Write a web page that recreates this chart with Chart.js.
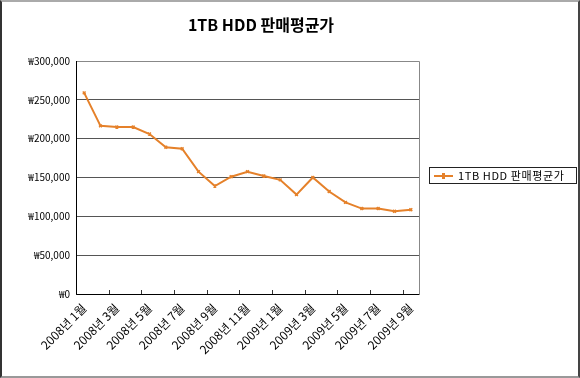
<!DOCTYPE html>
<html>
<head>
<meta charset="utf-8">
<script src="https://cdn.jsdelivr.net/npm/chart.js@4.4.1/dist/chart.umd.min.js"></script>
<style>
  html, body { margin: 0; padding: 0; background: #fff; }
  #wrap { position: relative; width: 580px; height: 378px; }
  #c { position: absolute; left: 0; top: 0; }
  #title { position: absolute; left: 161px; top: 13px; width: 200px; text-align: center;
           font-family: "Noto Sans CJK KR", sans-serif; font-weight: bold; font-size: 16px; line-height: 22px; color: #000; white-space: nowrap; }
  #frame { position: absolute; left: 0; top: 0; width: 580px; height: 378px; box-sizing: border-box;
           border-left: 2px solid #333; border-top: 2px solid #aaa; border-right: 2px solid #444; border-bottom: 2px solid #999; pointer-events: none; }
  #legend { position: absolute; left: 429px; top: 167px; width: 148px; height: 17px; box-sizing: border-box;
            border: 1px solid #222; font-family: "Noto Sans CJK KR", sans-serif; font-size: 11px; line-height: 15px;
            color: #000; white-space: nowrap; }
  #legend .sw { position: absolute; left: 4px; top: 7px; width: 19px; height: 2px; background: #E5812A; }
  #legend .pt { position: absolute; left: 12px; top: 5px; width: 3px; height: 6px; background: #E5812A; }
  #legend .tx { position: absolute; left: 28px; top: 0px; letter-spacing: 0.6px; }
</style>
</head>
<body>
<div id="wrap">
  <canvas id="c" width="580" height="378"></canvas>
  <div id="title"></div>
  <div id="legend"><span class="sw"></span><span class="pt"></span><span class="tx"></span></div>
  <div id="frame"></div>
</div>
<script>
const titleText = "1TB HDD 판매평균가";
const seriesName = "1TB HDD 판매평균가";
const months = [
  "2008년 1월","2008년 2월","2008년 3월","2008년 4월","2008년 5월","2008년 6월",
  "2008년 7월","2008년 8월","2008년 9월","2008년 10월","2008년 11월","2008년 12월",
  "2009년 1월","2009년 2월","2009년 3월","2009년 4월","2009년 5월","2009년 6월",
  "2009년 7월","2009년 8월","2009년 9월"
];
const prices = [
  259000, 216500, 215000, 215000, 206000, 189000,
  187000, 157500, 139000, 151000, 157500, 152000,
  147000, 128000, 150000, 132000, 118000, 110000,
  110000, 106500, 108500
];
const yTicks = [0, 50000, 100000, 150000, 200000, 250000, 300000];

const lineColor = "#E5812A";

document.getElementById("title").textContent = titleText;
document.querySelector("#legend .tx").textContent = seriesName;

const framePlugin = {
  id: "framePlugin",
  afterDraw(chart) {
    const { ctx, chartArea: a, scales } = chart;
    ctx.save();
    ctx.strokeStyle = "#888";
    ctx.lineWidth = 1;
    ctx.beginPath();
    ctx.moveTo(a.left, a.top + 0.5); ctx.lineTo(a.right + 0.5, a.top + 0.5); ctx.lineTo(a.right + 0.5, a.bottom);
    ctx.stroke();
    ctx.strokeStyle = "#000";
    ctx.beginPath();
    ctx.moveTo(a.left + 0.5, a.top); ctx.lineTo(a.left + 0.5, a.bottom + 0.5); ctx.lineTo(a.right + 0.5, a.bottom + 0.5);
    ctx.stroke();
    const x = scales.x;
    const half = (x.getPixelForValue(1) - x.getPixelForValue(0)) / 2;
    ctx.strokeStyle = "#333";
    ctx.beginPath();
    for (let i = 2; i < months.length; i += 2) {
      const px = Math.round(x.getPixelForValue(i) - half) + 0.5;
      ctx.moveTo(px, a.bottom); ctx.lineTo(px, a.bottom - 4);
    }
    ctx.stroke();
    ctx.restore();
  }
};

new Chart(document.getElementById("c"), {
  type: "line",
  data: {
    labels: months,
    datasets: [{
      label: seriesName,
      data: prices,
      borderColor: lineColor,
      backgroundColor: lineColor,
      borderWidth: 2,
      pointStyle: "crossRot",
      pointRadius: 2,
      pointBorderWidth: 1.5,
      pointBorderColor: lineColor,
      tension: 0
    }]
  },
  options: {
    responsive: false,
    animation: false,
    devicePixelRatio: 1,
    layout: { padding: { left: 0, right: 161, top: 61, bottom: 0 } },
    plugins: {
      legend: { display: false },
      tooltip: { enabled: false },
      title: { display: false }
    },
    scales: {
      x: {
        offset: true,
        grid: { display: false, drawTicks: false },
        border: { display: false },
        afterFit(s) { s.height = 84; },
        ticks: {
          autoSkip: false,
          minRotation: 45,
          maxRotation: 45,
          padding: 7,
          color: "#000",
          font: { family: "'Noto Sans CJK KR', sans-serif", size: 12 },
          callback(v, i) { return i % 2 === 0 ? months[i] : ""; }
        }
      },
      y: {
        min: 0,
        max: 300000,
        afterFit(s) { s.width = 76; },
        afterBuildTicks(s) { s.ticks = yTicks.map(v => ({ value: v })); },
        grid: { color: "#555", lineWidth: 1, drawTicks: false },
        border: { display: false },
        ticks: {
          padding: 6,
          color: "#000",
          font: { family: "'Noto Sans CJK KR', sans-serif", size: 10 },
          callback(v) { return "₩" + Number(v).toLocaleString("en-US"); }
        }
      }
    }
  },
  plugins: [framePlugin]
});
</script>
</body>
</html>
